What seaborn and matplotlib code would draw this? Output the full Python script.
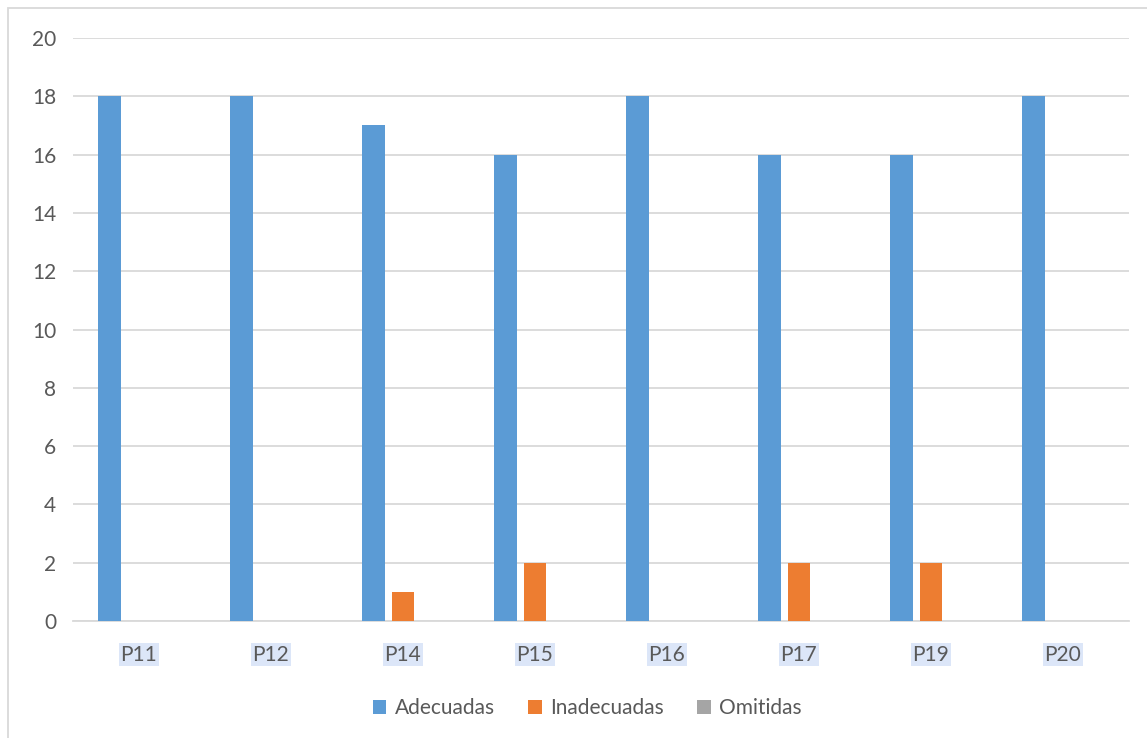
import pandas as pd
import numpy as np
import matplotlib
matplotlib.use("Agg")
import matplotlib.pyplot as plt
import seaborn as sns
from matplotlib.patches import Rectangle

# Datos
preguntas = ['P11', 'P12', 'P14', 'P15', 'P16', 'P17', 'P19', 'P20']
adecuadas = [18, 18, 17, 16, 18, 16, 16, 18]
inadecuadas = [0, 0, 1, 2, 0, 2, 2, 0]
omitidas = [0, 0, 0, 0, 0, 0, 0, 0]
series = ['Adecuadas', 'Inadecuadas', 'Omitidas']
colores = ['#5b9bd5', '#ed7d31', '#a5a5a5']

df = pd.DataFrame({
    'Pregunta': preguntas * 3,
    'Serie': [s for s in series for _ in preguntas],
    'Valor': adecuadas + inadecuadas + omitidas,
})

sns.set_style('white')
plt.rcParams['font.family'] = ['Lato', 'DejaVu Sans']
texto = '#595959'

fig = plt.figure(figsize=(11.47, 7.38), dpi=100)
ax = fig.add_axes([73 / 1147, 117 / 738, 1056 / 1147, 583 / 738])

sns.barplot(data=df, x='Pregunta', y='Valor', hue='Serie', hue_order=series,
            palette=colores, width=0.67, gap=0.22, saturation=1, linewidth=0,
            ax=ax, zorder=3)

ax.set_ylim(0, 20)
ax.set_xlim(-0.5, len(preguntas) - 0.5)
ax.set_yticks(range(0, 21, 2))
ax.yaxis.grid(True, color='#d9d9d9', linewidth=1.3, zorder=0)
ax.set_axisbelow(True)
for lado in ['top', 'right', 'left']:
    ax.spines[lado].set_visible(False)
ax.spines['bottom'].set_color('#d9d9d9')
ax.spines['bottom'].set_linewidth(1.3)
ax.set_xlabel('')
ax.set_ylabel('')
ax.tick_params(axis='both', length=0, labelsize=15, colors=texto)
ax.tick_params(axis='x', pad=17)
ax.tick_params(axis='y', pad=12)
for lbl in ax.get_xticklabels():
    lbl.set_bbox(dict(facecolor='#dce6f8', edgecolor='none', pad=1))

ax.legend(loc='upper center', bbox_to_anchor=(0.487, -0.1), ncol=3, frameon=False,
          fontsize=15, labelcolor=texto, handlelength=0.65, handleheight=0.65,
          handletextpad=0.4, columnspacing=1.6)

# marco exterior (se sale por la derecha y por abajo)
fig.patches.append(Rectangle((8 / 1147, -10 / 738), 1150 / 1147, 740 / 738,
                             transform=fig.transFigure, fill=False,
                             edgecolor='#d9d9d9', linewidth=1.3))

plt.savefig('out.png', dpi=100)
